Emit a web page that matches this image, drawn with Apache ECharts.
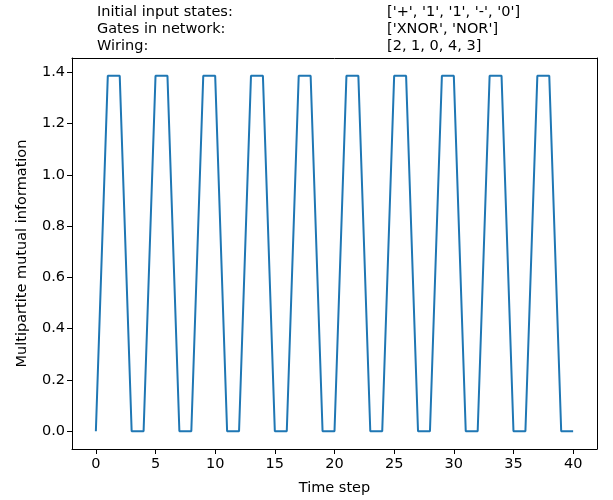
<!DOCTYPE html>
<html>
<head>
<meta charset="utf-8">
<script src="https://cdn.jsdelivr.net/npm/echarts@6/dist/echarts.min.js"></script>
<style>html,body{margin:0;padding:0;background:#fff;}#c{width:613px;height:500px;}</style>
</head>
<body>
<div id="c"></div>
<script>
var timeSteps = [0,1,2,3,4,5,6,7,8,9,10,11,12,13,14,15,16,17,18,19,20,21,22,23,24,25,26,27,28,29,30,31,32,33,34,35,36,37,38,39,40];
var mmi = [0,1.386,1.386,0,0,1.386,1.386,0,0,1.386,1.386,0,0,1.386,1.386,0,0,1.386,1.386,0,0,1.386,1.386,0,0,1.386,1.386,0,0,1.386,1.386,0,0,1.386,1.386,0,0,1.386,1.386,0,0];
var xTicks = [0,5,10,15,20,25,30,35,40];
var yTicks = [0,0.2,0.4,0.6,0.8,1.0,1.2,1.4];
var infoLabels = ["Initial input states:", "Gates in network:", "Wiring:"];
var infoValues = ["['+', '1', '1', '-', '0']", "['XNOR', 'NOR']", "[2, 1, 0, 4, 3]"];
var xTitle = "Time step";
var yTitle = "Multipartite mutual information";

var font = "DejaVu Sans";
var fs = 14.5;
var chart = echarts.init(document.getElementById('c'), null, {renderer:'canvas'});
var graphics = [];
for (var i = 0; i < infoLabels.length; i++) {
  graphics.push({type:'text', left:97, top:5 + i*17, style:{text:infoLabels[i], font:fs+'px "DejaVu Sans"', fill:'#000'}});
  graphics.push({type:'text', left:387, top:5 + i*17, style:{text:infoValues[i], font:fs+'px "DejaVu Sans"', fill:'#000'}});
}
var lbl = {fontFamily:font, fontSize:fs, color:'#000'};
var frameLine = {show:true, onZero:false, lineStyle:{color:'#000', width:1}};
chart.setOption({
  animation:false,
  backgroundColor:'#fff',
  grid:{left:72, right:16, top:58, bottom:51, containLabel:false, outerBoundsMode:'none'},
  xAxis:[{type:'value', min:-2, max:42, position:'bottom',
    name:xTitle, nameLocation:'middle', nameGap:32,
    nameTextStyle:lbl,
    axisLine:frameLine, splitLine:{show:false},
    axisTick:{show:true, length:5, lineStyle:{color:'#000'}, customValues:xTicks},
    axisLabel:Object.assign({margin:8, customValues:xTicks}, lbl)
  },{type:'value', min:-2, max:42, position:'top',
    axisLine:frameLine, splitLine:{show:false}, axisTick:{show:false}, axisLabel:{show:false}
  }],
  yAxis:[{type:'value', min:-0.0693, max:1.4556, position:'left',
    name:yTitle, nameLocation:'middle', nameGap:42,
    nameTextStyle:lbl,
    axisLine:frameLine, splitLine:{show:false},
    axisTick:{show:true, length:5, lineStyle:{color:'#000'}, customValues:yTicks},
    axisLabel:Object.assign({margin:7, customValues:yTicks, formatter:function(v){return v.toFixed(1);}}, lbl)
  },{type:'value', min:-0.0693, max:1.4556, position:'right',
    axisLine:frameLine, splitLine:{show:false}, axisTick:{show:false}, axisLabel:{show:false}
  }],
  series:[{type:'line', xAxisIndex:0, yAxisIndex:0, data:timeSteps.map(function(t,i){return [t, mmi[i]];}),
    showSymbol:false, symbol:'none', lineStyle:{color:'#1f77b4', width:2}, itemStyle:{color:'#1f77b4'}}],
  graphic:graphics
});
</script>
</body>
</html>
